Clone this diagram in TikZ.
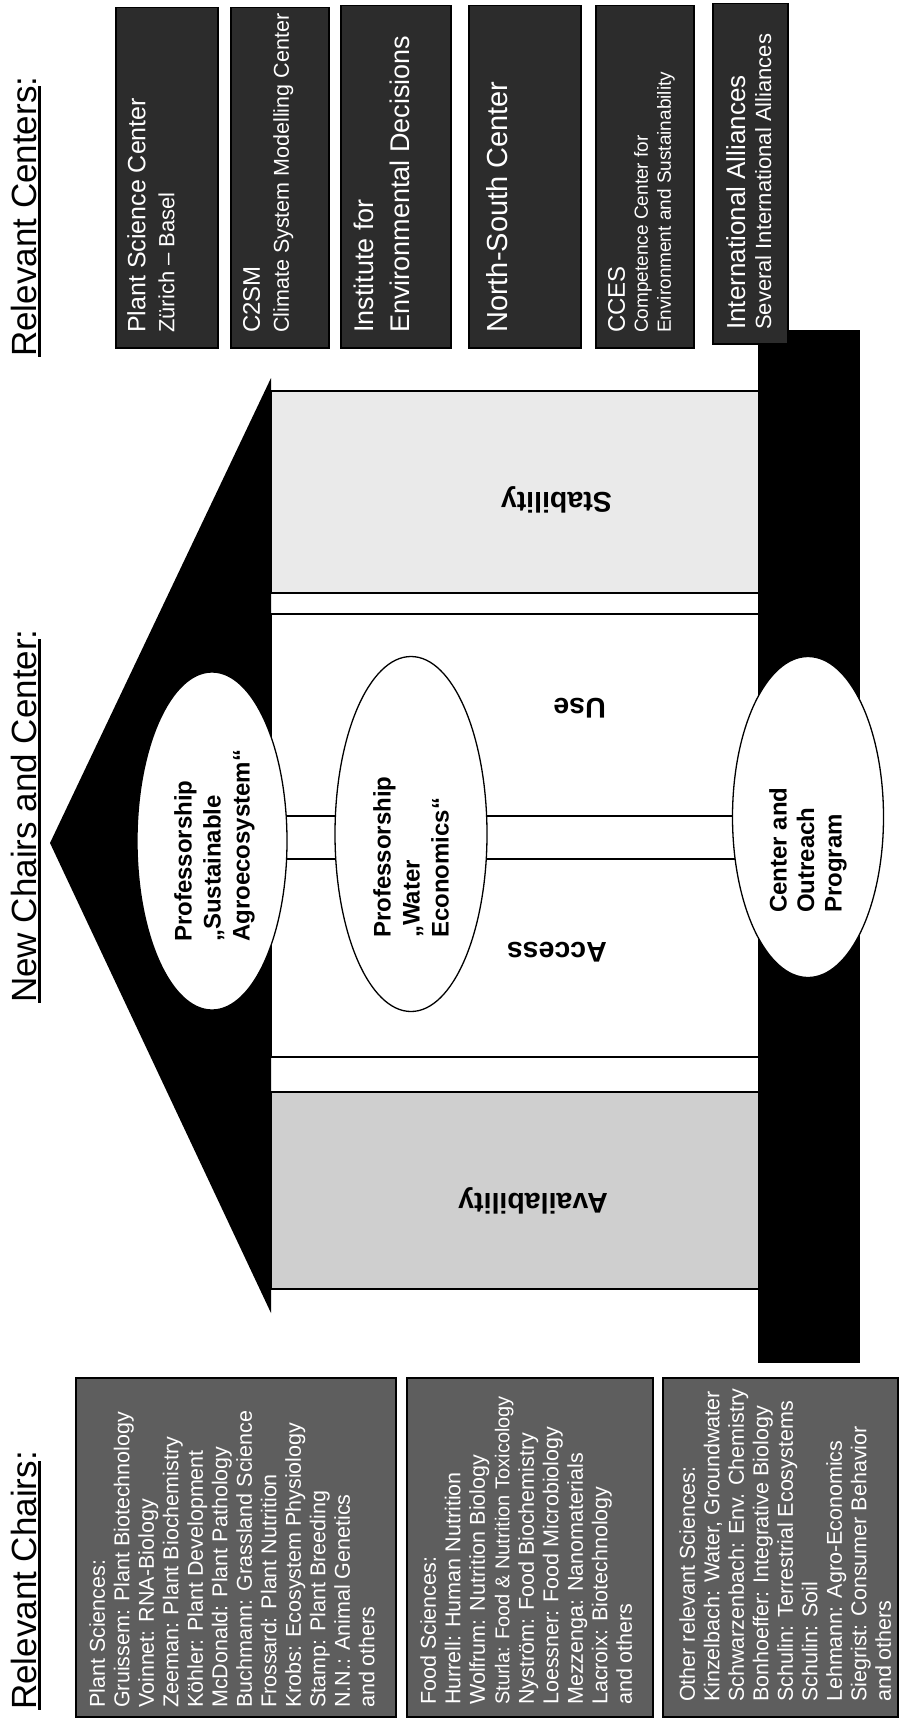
\documentclass[tikz,border=0pt]{standalone}
\usepackage{fontspec}
\setmainfont{Liberation Sans}
\usetikzlibrary{shapes.geometric}
\definecolor{chairgray}{HTML}{5E5E5E}
\definecolor{centergray}{HTML}{2C2C2C}
\definecolor{stabgray}{HTML}{EAEAEA}
\definecolor{availgray}{HTML}{CFCFCF}
\newcommand\ulx[1]{\leavevmode\setbox0=\hbox{#1}\rlap{\rule[-0.13em]{\wd0}{0.065em}}\box0}
\begin{document}
\begin{tikzpicture}[x=1pt,y=1pt,
  heading/.style={rotate=90, anchor=base west, inner sep=0pt, font=\fontsize{35}{40}\selectfont},
  chairbox/.style={draw=black, line width=1.5pt, fill=chairgray, anchor=north west, inner sep=0pt},
  centerbox/.style={draw=black, line width=1.5pt, fill=centergray, anchor=north west, inner sep=0pt},
  boxtext/.style={rotate=90, anchor=north west, inner sep=0pt, align=left, text=white},
  chairtext/.style={boxtext, font=\fontsize{21.5}{24.5}\selectfont},
  profell/.style={ellipse, draw=black, line width=1.3pt, fill=white, inner sep=0pt},
  proftext/.style={rotate=90, anchor=north west, inner sep=0pt, align=left, font=\bfseries\fontsize{24}{29}\selectfont},
  pillar/.style={draw=black, line width=1.5pt},
  pillartext/.style={rotate=180, anchor=west, inner sep=0pt, font=\bfseries\fontsize{28.5}{32}\selectfont}
]
\useasboundingbox (0,0) rectangle (899,-1718);
\fill[white] (0,0) rectangle (899,-1718);

% headings
\node[heading] (hchairs) at (36,-1710) {\ulx{Relevant Chairs}:};
\node[heading] (hnew) at (36,-1003) {\ulx{New Chairs and Center}:};
\node[heading] (hcenters) at (36,-357) {\ulx{Relevant Centers}:};

% pillars
\node[pillar, fill=stabgray, anchor=north west, minimum width=488, minimum height=202, inner sep=0pt] (stab) at (270,-390) {};
\node[pillar, anchor=north west, minimum width=488, minimum height=202, inner sep=0pt] (use) at (270,-613) {};
\node[pillar, anchor=north west, minimum width=488, minimum height=198, inner sep=0pt] (access) at (270,-858) {};
\node[pillar, fill=availgray, anchor=north west, minimum width=488, minimum height=197, inner sep=0pt] (avail) at (270,-1091) {};

% roof and base
\fill[black] (50,-843) -- (271,-378) -- (271,-1313) -- cycle;
\node[fill=black, anchor=north west, minimum width=102, minimum height=1033, inner sep=0pt] (base) at (758,-330) {};

% ellipses
\node[profell, minimum width=150, minimum height=338] (e1) at (212,-841) {};
\node[profell, minimum width=152, minimum height=355] (e2) at (411,-834) {};
\node[profell, minimum width=151, minimum height=321] (e3) at (808,-817) {};

\node[proftext] (t1) at (174,-942) {Professorship\\„Sustainable\\Agroecosystem“};
\node[proftext] (t2) at (373,-938) {Professorship\\„Water\\Economics“};
\node[proftext, font=\bfseries\fontsize{24}{27.5}\selectfont] (t3) at (769,-913) {Center and\\Outreach\\Program};

% pillar labels
\node[pillartext] (lstab) at (612,-500) {Stability};
\node[pillartext] (luse) at (606,-708) {Use};
\node[pillartext] (lacc) at (607,-952) {Access};
\node[pillartext] (lavail) at (608,-1201) {Availability};

% chair boxes
\node[chairbox, minimum width=320, minimum height=339] (plant) at (75,-1377) {};
\node[chairbox, minimum width=246, minimum height=339] (food) at (406,-1377) {};
\node[chairbox, minimum width=235, minimum height=339] (other) at (662,-1377) {};

\node[chairtext] (plantt) at (89,-1708) {Plant Sciences:\\Gruissem: Plant Biotechnology\\Voinnet: RNA-Biology\\Zeeman: Plant Biochemistry\\Köhler: Plant Development\\McDonald: Plant Pathology\\Buchmann: Grassland Science\\Frossard: Plant Nutrition\\Krobs: Ecosystem Physiology\\Stamp: Plant Breeding\\N.N.: Animal Genetics\\and others};
\node[chairtext] (foodt) at (420,-1705) {Food Sciences:\\Hurrell: Human Nutrition\\Wolfrum: Nutrition Biology\\\fontsize{20}{24.5}\selectfont Sturla: Food \& Nutrition Toxicology\\Nyström: Food Biochemistry\\Loessner: Food Microbiology\\Mezzenga: Nanomaterials\\Lacroix: Biotechnology\\and others};
\node[chairtext] (othert) at (679,-1702) {Other relevant Sciences:\\Kinzelbach: Water, Groundwater\\Schwarzenbach: Env. Chemistry\\Bonhoeffer: Integrative Biology\\Schulin: Terrestrial Ecosystems\\Schulin: Soil\\Lehmann: Agro-Economics\\Siegrist: Consumer Behavior\\and others};

% center boxes
\node[centerbox, minimum width=102, minimum height=340] (c1) at (115,-7) {};
\node[centerbox, minimum width=98, minimum height=340] (c2) at (230,-7) {};
\node[centerbox, minimum width=110, minimum height=342] (c3) at (340,-5) {};
\node[centerbox, minimum width=112, minimum height=342] (c4) at (468,-5) {};
\node[centerbox, minimum width=98, minimum height=342] (c5) at (595,-5) {};
\node[centerbox, minimum width=75, minimum height=340] (c6) at (712,-3) {};

\node[boxtext, font=\fontsize{22}{29}\selectfont] (c1t) at (127,-333) {\fontsize{25}{30}\selectfont Plant Science Center\\Zürich -- Basel};
\node[boxtext, font=\fontsize{21.5}{29}\selectfont] (c2t) at (243,-333) {\fontsize{24}{31}\selectfont C2SM\\Climate System Modelling Center};
\node[boxtext, font=\fontsize{27}{36}\selectfont] (c3t) at (354,-333) {Institute for\\Environmental Decisions};
\node[boxtext, font=\fontsize{29}{34}\selectfont] (c4t) at (486,-333) {North-South Center};
\node[boxtext, font=\fontsize{19}{23}\selectfont] (c5t) at (608,-333) {\fontsize{24}{30}\selectfont CCES\\Competence Center for\\Environment and Sustainability};
\node[boxtext, font=\fontsize{22}{26}\selectfont] (c6t) at (726,-330) {\fontsize{26}{27}\selectfont International Alliances\\Several International Alliances};
\end{tikzpicture}
\end{document}
